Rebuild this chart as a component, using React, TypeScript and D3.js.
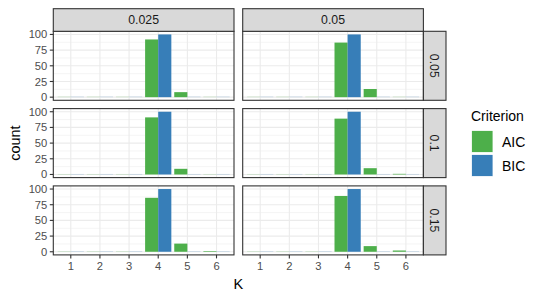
import * as d3 from "d3";

const kValues = [1, 2, 3, 4, 5, 6];
const colLevels = ["0.025", "0.05"];
const rowLevels = ["0.05", "0.1", "0.15"];
const criteria = ["AIC", "BIC"];
const criterionColors = ["#4DAF4A", "#377EB8"];
const yTicks = [0, 25, 50, 75, 100];
const yMinor = [12.5, 37.5, 62.5, 87.5];

// AIC counts per panel (row, col)
const aic_005_0025 = [0, 0, 0, 92, 8, 0];
const aic_005_005 = [0, 0, 0, 87, 13, 0];
const aic_01_0025 = [0, 0, 0, 91, 9, 0];
const aic_01_005 = [0, 0, 0, 89, 10, 1];
const aic_015_0025 = [0, 0, 0, 86, 13, 1];
const aic_015_005 = [0, 0, 0, 89, 9, 2];
// BIC picks K = 4 every time
const bicCounts = [0, 0, 0, 100, 0, 0];

const aicByPanel = [
  [aic_005_0025, aic_005_005],
  [aic_01_0025, aic_01_005],
  [aic_015_0025, aic_015_005],
];

const W = 539;
const H = 300;
const left = 53.3;
const panelW = 180.7;
const colGap = 8.7;
const top = 31.3;
const panelH = 69;
const rowGap = 8.3;
const stripH = 22.6;
const font = "'Liberation Sans', Arial, Helvetica, sans-serif";

const x = d3.scaleLinear().domain([0.4, 6.6]).range([0, panelW]);
const y = d3.scaleLinear().domain([-5, 105]).range([panelH, 0]);

function Panel({ r, c }: { r: number; c: number }) {
  const px = left + c * (panelW + colGap);
  const py = top + r * (panelH + rowGap);
  const series = [aicByPanel[r][c], bicCounts];
  return (
    <g transform={`translate(${px},${py})`}>
      <rect width={panelW} height={panelH} fill="#fff" />
      {yMinor.map((t) => (
        <line key={"m" + t} x1={0} x2={panelW} y1={y(t)} y2={y(t)} stroke="#EBEBEB" strokeWidth={0.55} />
      ))}
      {yTicks.map((t) => (
        <line key={"y" + t} x1={0} x2={panelW} y1={y(t)} y2={y(t)} stroke="#EBEBEB" strokeWidth={1.1} />
      ))}
      {kValues.map((k) => (
        <line key={"x" + k} x1={x(k)} x2={x(k)} y1={0} y2={panelH} stroke="#EBEBEB" strokeWidth={1.1} />
      ))}
      {series.map((vals, si) =>
        vals.map((v, i) => {
          const x0 = x(kValues[i] - 0.45 + si * 0.45);
          const w = x(kValues[i]) - x(kValues[i] - 0.45);
          const h = Math.max(y(0) - y(v), 0.5);
          return (
            <rect
              key={si + "-" + i}
              x={x0}
              y={y(0) - h}
              width={w}
              height={h}
              fill={criterionColors[si]}
              opacity={v === 0 ? 0.35 : 1}
            />
          );
        })
      )}
      <rect width={panelW} height={panelH} fill="none" stroke="#333333" strokeWidth={1.1} />
      {c === 0 &&
        yTicks.map((t) => (
          <g key={"yt" + t}>
            <line x1={-3.5} x2={0} y1={y(t)} y2={y(t)} stroke="#333333" strokeWidth={1.1} />
            <text x={-6} y={y(t)} dy="0.36em" textAnchor="end" fontSize={11.2} fill="#4D4D4D" fontFamily={font}>
              {t}
            </text>
          </g>
        ))}
      {r === rowLevels.length - 1 &&
        kValues.map((k) => (
          <g key={"xt" + k}>
            <line x1={x(k)} x2={x(k)} y1={panelH} y2={panelH + 3.5} stroke="#333333" strokeWidth={1.1} />
            <text x={x(k)} y={panelH + 15} textAnchor="middle" fontSize={11.2} fill="#4D4D4D" fontFamily={font}>
              {k}
            </text>
          </g>
        ))}
      {r === 0 && (
        <g transform={`translate(0,${-stripH})`}>
          <rect width={panelW} height={stripH} fill="#D9D9D9" stroke="#333333" strokeWidth={1.1} />
          <text x={panelW / 2} y={stripH / 2} dy="0.36em" textAnchor="middle" fontSize={12.3} fill="#1A1A1A" fontFamily={font}>
            {colLevels[c]}
          </text>
        </g>
      )}
      {c === colLevels.length - 1 && (
        <g transform={`translate(${panelW},0)`}>
          <rect width={stripH} height={panelH} fill="#D9D9D9" stroke="#333333" strokeWidth={1.1} />
          <text
            transform={`translate(${stripH / 2},${panelH / 2}) rotate(90)`}
            dy="0.36em"
            textAnchor="middle"
            fontSize={12.3}
            fill="#1A1A1A"
            fontFamily={font}
          >
            {rowLevels[r]}
          </text>
        </g>
      )}
    </g>
  );
}

export default function App() {
  const panelsRight = left + 2 * panelW + colGap;
  const panelsBottom = top + 3 * panelH + 2 * rowGap;
  return (
    <svg width={W} height={H} style={{ position: "absolute", left: 0, top: 0 }}>
      <rect width={W} height={H} fill="#fff" />
      {rowLevels.map((_, r) => colLevels.map((_, c) => <Panel key={r + "-" + c} r={r} c={c} />))}
      <text
        transform={`translate(15,${(top + panelsBottom) / 2}) rotate(-90)`}
        dy="0.36em"
        textAnchor="middle"
        fontSize={14.5}
        fill="#000"
        fontFamily={font}
      >
        count
      </text>
      <text x={(left + panelsRight) / 2} y={289} textAnchor="middle" fontSize={14.5} fill="#000" fontFamily={font}>
        K
      </text>
      <g transform="translate(471,0)">
        <text x={0} y={120.5} fontSize={14} fill="#000" fontFamily={font}>
          Criterion
        </text>
        {criteria.map((name, i) => (
          <g key={name} transform={`translate(0,${130 + i * 24})`}>
            <rect x={0.5} y={0.5} width={21.5} height={22} fill={criterionColors[i]} stroke="#fff" strokeWidth={0.8} />
            <text x={31} y={11.5} dy="0.36em" fontSize={14} fill="#000" fontFamily={font}>
              {name}
            </text>
          </g>
        ))}
      </g>
    </svg>
  );
}
